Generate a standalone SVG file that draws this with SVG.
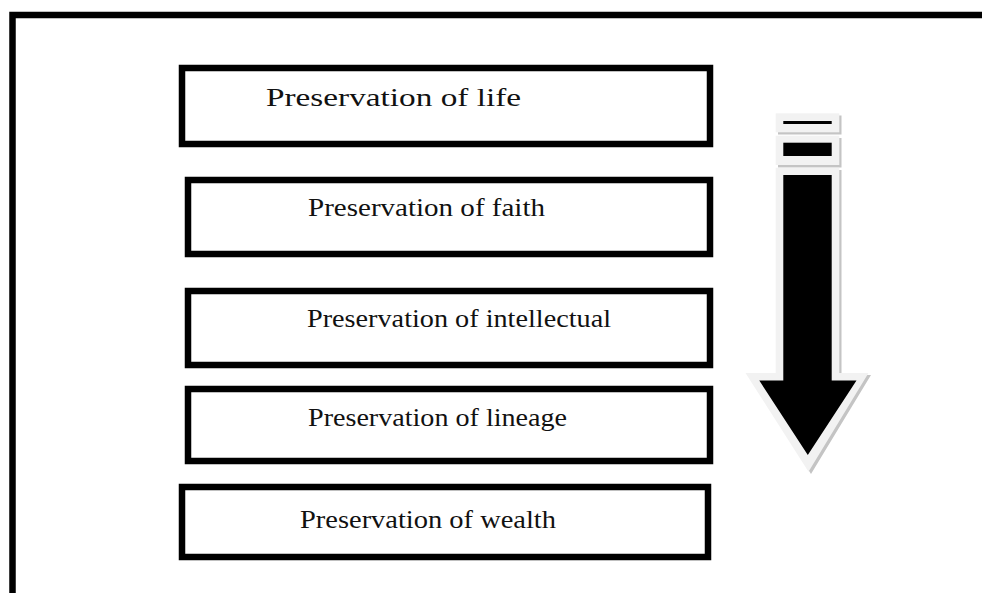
<svg xmlns="http://www.w3.org/2000/svg" width="982" height="593" viewBox="0 0 982 593">
  <style>
    .box { fill: #ffffff; stroke: #000000; stroke-width: 6.5; }
    .lbl { font-family: "Liberation Serif", "Times New Roman", serif; font-size: 26px; fill: #111111; }
  </style>
  <rect x="0" y="0" width="982" height="593" fill="#ffffff"/>
  <rect id="frame" x="12.5" y="15" width="990" height="600" fill="none" stroke="#000000" stroke-width="6.5"/>

  <g id="node1">
    <rect class="box" x="182" y="68" width="528" height="76"/>
    <text class="lbl" x="266" y="105.5" textLength="255" lengthAdjust="spacingAndGlyphs">Preservation of life</text>
  </g>
  <g id="node2">
    <rect class="box" x="188" y="180" width="522" height="74"/>
    <text class="lbl" x="308" y="216" textLength="237" lengthAdjust="spacingAndGlyphs">Preservation of faith</text>
  </g>
  <g id="node3">
    <rect class="box" x="188" y="291" width="522" height="74"/>
    <text class="lbl" x="307" y="327" textLength="304" lengthAdjust="spacingAndGlyphs">Preservation of intellectual</text>
  </g>
  <g id="node4">
    <rect class="box" x="188" y="389" width="522" height="72"/>
    <text class="lbl" x="308" y="425.5" textLength="259" lengthAdjust="spacingAndGlyphs">Preservation of lineage</text>
  </g>
  <g id="node5">
    <rect class="box" x="182" y="487" width="526" height="70"/>
    <text class="lbl" x="300" y="527.5" textLength="256" lengthAdjust="spacingAndGlyphs">Preservation of wealth</text>
  </g>

  <g id="arrow">
    <g fill="#c4c4c4">
      <rect x="778" y="115.5" width="63.5" height="19"/>
      <rect x="778" y="138" width="63.5" height="29.5"/>
      <polygon points="778,170 841.5,170 841.5,375 871,375 811,474 748,375 778,375"/>
    </g>
    <g fill="#f2f2f2">
      <rect x="775.7" y="113.3" width="63.6" height="19"/>
      <rect x="775.7" y="135.7" width="63.6" height="29.3"/>
      <polygon points="775.7,167.7 839.3,167.7 839.3,373 868.5,373 808.5,471.7 745.5,373 775.7,373"/>
    </g>
    <g fill="#000000">
      <rect x="783.3" y="121" width="48.4" height="3"/>
      <rect x="783.3" y="142.7" width="48.4" height="13.3"/>
      <polygon points="783.3,175 831.7,175 831.7,380.5 856.5,380.5 807.8,455 759.3,380.5 783.3,380.5"/>
    </g>
  </g>
</svg>
